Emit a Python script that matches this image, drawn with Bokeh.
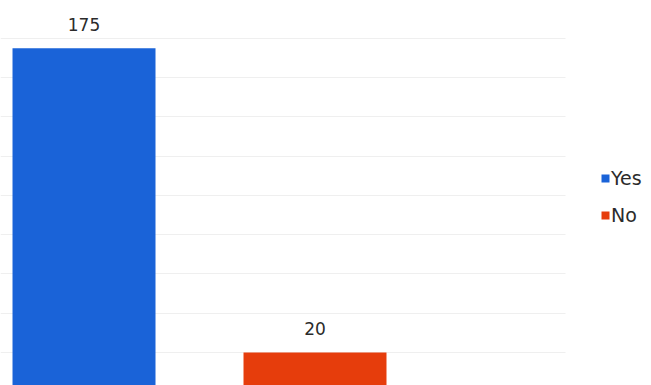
from bokeh.plotting import figure
from bokeh.models import ColumnDataSource, Range1d, FixedTicker, Legend, LegendItem
from bokeh.core.properties import value
from bokeh.embed import file_html
from bokeh.resources import INLINE

# Data
categories = ["Yes", "No"]
counts = [175, 20]
bar_colors = ["#1a63d8", "#e63d0c"]
grid_ticks = [20, 40, 60, 80, 100, 120, 140, 160, 180]

positions = list(range(len(categories)))
labels = [str(c) for c in counts]

p = figure(width=651, height=385, output_backend="svg", toolbar_location=None,
           x_axis_location=None, y_axis_location=None,
           x_range=Range1d(-0.3615, 2.4567), y_range=Range1d(3.18, 199.36),
           min_border=0)
p.outline_line_color = None
p.xgrid.visible = False
p.ygrid.ticker = FixedTicker(ticks=grid_ticks)
p.ygrid.grid_line_color = "#efefef"
p.ygrid.grid_line_width = 1
p.ygrid.cross_bounds = (-0.3615, 2.084)

items = []
for i, (cat, cnt, col) in enumerate(zip(categories, counts, bar_colors)):
    src = ColumnDataSource(dict(x=[positions[i]], top=[cnt], label=[labels[i]]))
    r = p.vbar(x="x", top="top", bottom=0, width=0.619, source=src,
               fill_color=col, line_color=None)
    p.text(x="x", y="top", text="label", source=src, y_offset=-24,
           text_align="center", text_baseline="alphabetic",
           text_font=value("DejaVu Sans"), text_font_size="17px", text_color="#2b2b2b")
    items.append(LegendItem(label=cat, renderers=[r]))

legend = Legend(items=items, location=(600, 159), margin=0, padding=0,
                glyph_width=10, glyph_height=10, label_standoff=1,
                label_height=20, spacing=15,
                label_text_font="DejaVu Sans", label_text_font_size="19px",
                label_text_color="#2b2b2b",
                border_line_color=None, background_fill_alpha=0)
p.add_layout(legend)

open("out.html", "w").write(file_html(p, INLINE))
